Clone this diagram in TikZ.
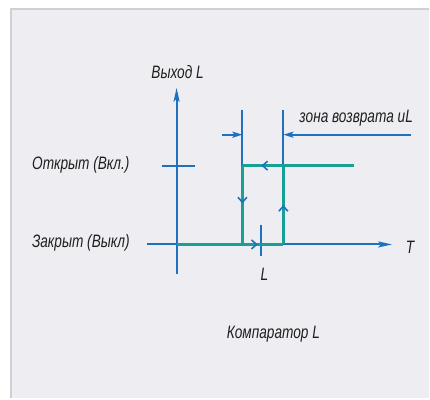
\documentclass[tikz,border=0pt]{standalone}
\usepackage{fontspec}
\setmainfont{Liberation Sans}
\newfontfamily\gost[FakeStretch=0.76]{Liberation Sans Italic}
\usetikzlibrary{arrows.meta,decorations.markings}
\definecolor{axisblue}{RGB}{32,112,192}
\definecolor{loopteal}{RGB}{22,160,150}
\definecolor{panel}{RGB}{238,237,242}
\definecolor{rim}{RGB}{208,208,210}
\tikzset{
  axis/.style={draw=axisblue, line width=2pt},
  axisarrow/.style={axis, -{Stealth[length=14pt,width=6pt,inset=3pt]}},
  dimarrow/.style={axis, -{Stealth[length=10pt,width=6pt,inset=2pt]}},
  loop/.style={draw=loopteal, line width=2.8pt},
  chev/.style={decoration={markings, mark=at position #1 with {\arrow[axisblue,line width=1.6pt]{Straight Barb[length=5pt,width=9pt]}}}, postaction={decorate}},
  lbl/.style={font=\gost\fontsize{18}{20}\selectfont, text=black!88, inner sep=0pt}
}
\begin{document}
\begin{tikzpicture}[x=1pt,y=-1pt]
  % page and panel
  \fill[white] (0,0) rectangle (430,399);
  \fill[panel] (11,9) rectangle (430,399);
  \draw[rim, line width=2pt] (11,399) -- (11,9) -- (430,9);
  \useasboundingbox (0,0) rectangle (430,399);

  % key points
  \coordinate (vb) at (177,275);
  \coordinate (vt) at (177,88);
  \coordinate (hl) at (147,245);
  \coordinate (hr) at (393,245);
  \coordinate (otl) at (162,166);
  \coordinate (otr) at (195,166);
  \coordinate (o)  at (177,245);
  \coordinate (bl) at (243,245);
  \coordinate (br) at (284,245);
  \coordinate (tl) at (243,166);
  \coordinate (tr) at (284,166);
  \coordinate (te) at (355,166);
  \coordinate (gl) at (243,110);
  \coordinate (gr) at (284,110);
  \coordinate (dl) at (223,135);
  \coordinate (dr) at (412,135);
  \coordinate (d1) at (243,135);
  \coordinate (d2) at (284,135);
  \coordinate (lt) at (262,226);
  \coordinate (lb) at (262,257);

  % axes
  \draw[axisarrow] (vb) -- (vt);
  \draw[axisarrow] (hl) -- (hr);
  \draw[axis] (otl) -- (otr);
  \draw[axis] (lt) -- (lb);

  % extension lines and return-zone dimension
  \draw[axis] (gl) -- (tl);
  \draw[axis] (gr) -- (tr);
  \draw[dimarrow] (dl) -- (d1);
  \draw[dimarrow] (dr) -- (d2);

  % hysteresis loop
  \draw[loop, chev=0.76] (o) -- (br);
  \draw[loop, chev=0.5] (br) -- (tr);
  \draw[loop, chev=0.83] (te) -- (tl);
  \draw[loop, chev=0.48] (tl) -- (bl);

  % labels
  \node[lbl] (yl) at (178,72) {Выход L};
  \node[lbl] (zr) at (357,118) {зона возврата uL};
  \node[lbl] (on) at (81,165) {Открыт (Вкл.)};
  \node[lbl] (off) at (81,243) {Закрыт (Выкл)};
  \node[lbl] (tx) at (411,248) {T};
  \node[lbl] (lx) at (265,275) {L};
  \node[lbl] (cmp) at (274,335) {Компаратор L};
\end{tikzpicture}
\end{document}
